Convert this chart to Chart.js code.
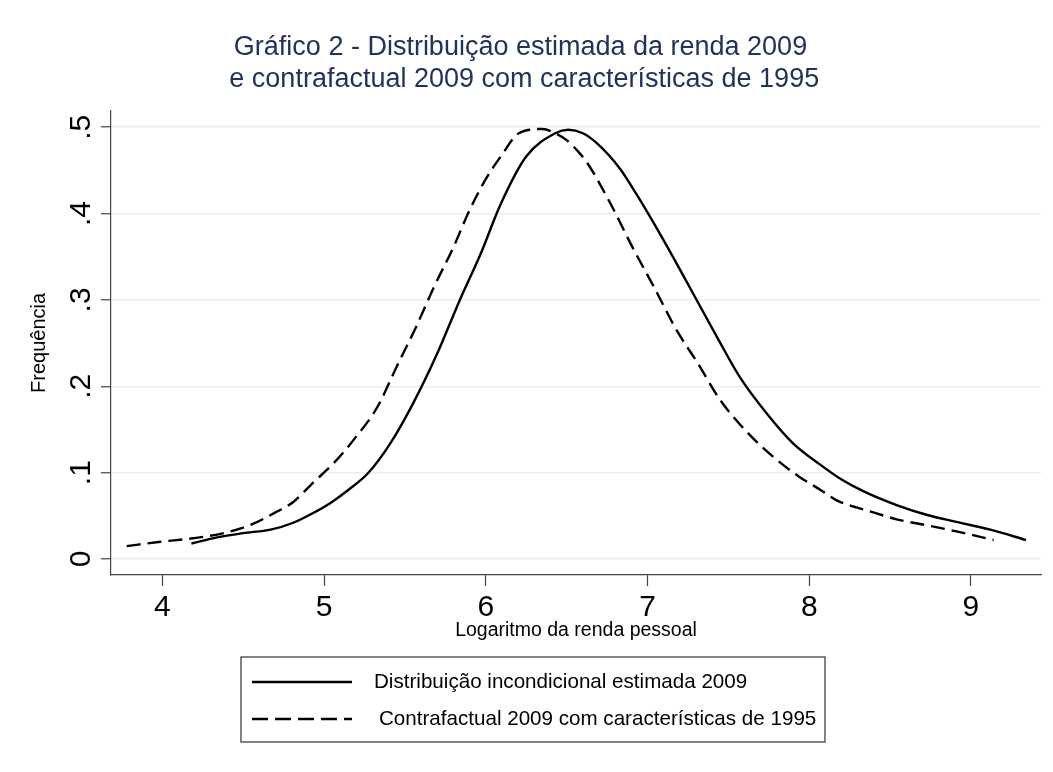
<!DOCTYPE html>
<html lang="pt">
<head>
<meta charset="UTF-8">
<title>Gráfico 2</title>
<script src="https://cdn.jsdelivr.net/npm/chart.js"></script>
<style>
  html, body { margin: 0; padding: 0; background: #fff; }
  #wrap { width: 1053px; height: 772px; }
</style>
</head>
<body>
<div id="wrap"><canvas id="grafico"></canvas></div>
<script>
// dados
const xSolid = [4.18, 4.34, 4.50, 4.67, 4.81, 4.93, 5.04, 5.15, 5.27, 5.41, 5.55, 5.70, 5.84, 5.97, 6.09, 6.25, 6.43, 6.51, 6.60, 6.69, 6.83, 6.93, 7.10, 7.26, 7.43, 7.57, 7.74, 7.90, 8.07, 8.20, 8.34, 8.54, 8.73, 8.91, 9.12, 9.34];
const ySolid = [0.018, 0.025, 0.030, 0.034, 0.042, 0.053, 0.065, 0.080, 0.099, 0.134, 0.180, 0.238, 0.300, 0.354, 0.410, 0.466, 0.493, 0.497, 0.493, 0.481, 0.452, 0.423, 0.369, 0.315, 0.257, 0.211, 0.168, 0.134, 0.109, 0.092, 0.078, 0.0625, 0.051, 0.043, 0.034, 0.022];

const xDash = [3.78, 3.99, 4.19, 4.38, 4.54, 4.71, 4.81, 4.93, 5.06, 5.20, 5.33, 5.45, 5.57, 5.68, 5.80, 5.90, 6.01, 6.10, 6.19, 6.27, 6.35, 6.43, 6.50, 6.58, 6.63, 6.77, 6.91, 7.04, 7.18, 7.31, 7.45, 7.62, 7.78, 7.94, 8.07, 8.17, 8.38, 8.54, 8.73, 8.91, 9.14];
const yDash = [0.015, 0.020, 0.024, 0.030, 0.039, 0.055, 0.066, 0.088, 0.111, 0.142, 0.176, 0.223, 0.269, 0.315, 0.361, 0.404, 0.443, 0.468, 0.491, 0.497, 0.498, 0.493, 0.485, 0.470, 0.458, 0.412, 0.360, 0.315, 0.265, 0.227, 0.184, 0.146, 0.118, 0.095, 0.080, 0.068, 0.055, 0.046, 0.039, 0.032, 0.022];

const xTicks = [4, 5, 6, 7, 8, 9];
const yTicks = [0, 0.1, 0.2, 0.3, 0.4, 0.5];
const yTickLabels = ['0', '.1', '.2', '.3', '.4', '.5'];

const seriesNames = ['Distribuição incondicional estimada 2009', 'Contrafactual 2009 com características de 1995'];
const titleLines = ['Gráfico 2 - Distribuição estimada da renda 2009', ' e contrafactual 2009 com características de 1995'];

const FONT = '"Liberation Sans", Arial, Helvetica, sans-serif';
const DASH = [14, 7];

function pares(xs, ys) {
  return xs.map((x, i) => ({ x: x, y: ys[i] }));
}

// rótulos do eixo y girados (Chart.js não gira ticks verticais)
const rotulosY = {
  id: 'rotulosY',
  afterDraw(chart) {
    const ctx = chart.ctx;
    const y = chart.scales.y;
    ctx.save();
    ctx.font = '30px ' + FONT;
    ctx.fillStyle = '#000';
    ctx.textAlign = 'center';
    ctx.textBaseline = 'alphabetic';
    yTicks.forEach((v, i) => {
      ctx.save();
      ctx.translate(90, y.getPixelForValue(v));
      ctx.rotate(-Math.PI / 2);
      ctx.fillText(yTickLabels[i], 0, 0);
      ctx.restore();
    });
    ctx.restore();
  }
};

// legenda com moldura, como no Stata
const legendaCaixa = {
  id: 'legendaCaixa',
  afterDraw(chart) {
    const ctx = chart.ctx;
    ctx.save();
    ctx.strokeStyle = '#333';
    ctx.lineWidth = 1.2;
    ctx.strokeRect(241, 657, 584, 85);
    const linhasY = [682, 719];
    const textoX = [374, 379];
    chart.data.datasets.forEach((ds, i) => {
      ctx.beginPath();
      ctx.strokeStyle = ds.borderColor;
      ctx.lineWidth = ds.borderWidth;
      ctx.setLineDash(i === 1 ? [16, 7] : []);
      ctx.moveTo(252, linhasY[i]);
      ctx.lineTo(352, linhasY[i]);
      ctx.stroke();
      ctx.setLineDash([]);
      ctx.font = '20.6px ' + FONT;
      ctx.fillStyle = '#000';
      ctx.textAlign = 'left';
      ctx.textBaseline = 'middle';
      ctx.fillText(ds.label, textoX[i], linhasY[i]);
    });
    ctx.restore();
  }
};

const config = {
  type: 'line',
  data: {
    datasets: [
      {
        label: seriesNames[0],
        data: pares(xSolid, ySolid),
        borderColor: '#000',
        borderWidth: 2.4,
        pointRadius: 0,
        cubicInterpolationMode: 'monotone',
        fill: false
      },
      {
        label: seriesNames[1],
        data: pares(xDash, yDash),
        borderColor: '#000',
        borderWidth: 2.4,
        borderDash: DASH,
        pointRadius: 0,
        cubicInterpolationMode: 'monotone',
        fill: false
      }
    ]
  },
  options: {
    responsive: true,
    maintainAspectRatio: false,
    animation: false,
    layout: { padding: { left: 0, right: 12, top: 0, bottom: 127 } },
    plugins: {
      legend: { display: false },
      tooltip: { enabled: false },
      title: {
        display: true,
        text: titleLines,
        color: '#22325a',
        font: { family: FONT, size: 27, weight: 'normal', lineHeight: 1.2 },
        padding: { top: 31, bottom: 15 }
      }
    },
    scales: {
      x: {
        type: 'linear',
        min: 3.683,
        max: 9.433,
        afterBuildTicks: (s) => { s.ticks = xTicks.map(v => ({ value: v })); },
        afterFit: (s) => { s.height = 70; },
        grid: { drawOnChartArea: false, tickLength: 11, tickColor: '#444', tickWidth: 1.2 },
        border: { color: '#444', width: 1.2 },
        ticks: { color: '#000', font: { family: FONT, size: 30 }, padding: 4, maxRotation: 0 },
        title: {
          display: true,
          text: 'Logaritmo da renda pessoal',
          color: '#000',
          font: { family: FONT, size: 19.5 },
          padding: { top: 0, bottom: 3 }
        }
      },
      y: {
        min: -0.0185,
        max: 0.519,
        afterBuildTicks: (s) => { s.ticks = yTicks.map(v => ({ value: v })); },
        afterFit: (s) => { s.width = 111; },
        grid: { color: '#e8eff1', lineWidth: 1.5, tickLength: 10, tickColor: '#444', tickWidth: 1.2 },
        border: { color: '#444', width: 1.2 },
        ticks: { display: false },
        title: {
          display: true,
          text: 'Frequência',
          color: '#000',
          font: { family: FONT, size: 20 },
          padding: { top: 27, bottom: 0 }
        }
      }
    }
  },
  plugins: [rotulosY, legendaCaixa]
};

const grafico = new Chart(document.getElementById('grafico').getContext('2d'), config);
</script>
</body>
</html>
